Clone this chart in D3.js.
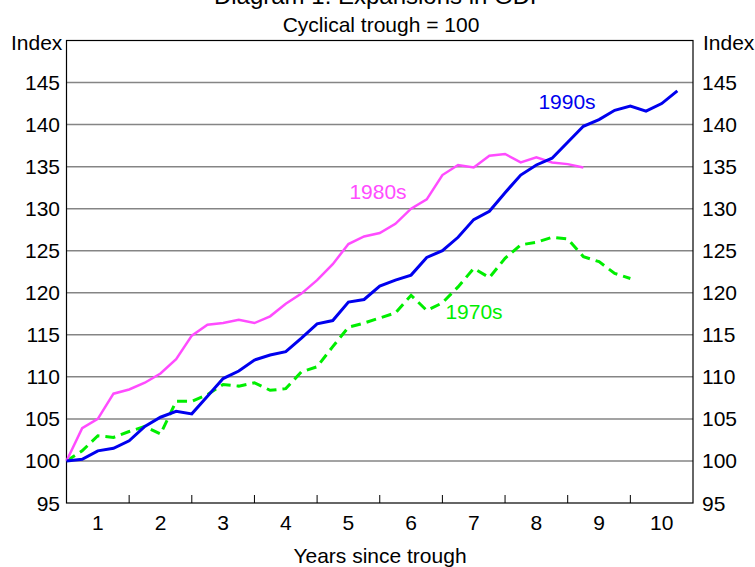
<!DOCTYPE html>
<html>
<head>
<meta charset="utf-8">
<script src="https://cdn.jsdelivr.net/npm/d3@7"></script>
<style>
  body { margin: 0; background: #fff; }
  text { font-family: "Liberation Sans", Arial, sans-serif; }
</style>
</head>
<body>
<script>
// quarterly index, cyclical trough = 100 (quarter 0)
var s1990 = [100, 100.2, 101.2, 101.5, 102.4, 104.1, 105.2, 105.9, 105.6, 107.7,
  109.8, 110.7, 112.0, 112.6, 113.0, 114.6, 116.3, 116.7, 118.9, 119.2,
  120.8, 121.5, 122.1, 124.2, 125.0, 126.6, 128.7, 129.7, 131.9, 134.0,
  135.2, 136.0, 137.9, 139.8, 140.6, 141.7, 142.2, 141.6, 142.5, 144.0];
var s1980 = [100, 103.9, 105.0, 108.0, 108.5, 109.3, 110.4, 112.1, 114.9, 116.2,
  116.4, 116.8, 116.4, 117.2, 118.7, 119.9, 121.5, 123.4, 125.8, 126.7,
  127.1, 128.2, 130.0, 131.1, 134.0, 135.2, 134.9, 136.3, 136.5, 135.5,
  136.1, 135.5, 135.3, 134.9];
var s1970 = [100, 101.2, 103.0, 102.8, 103.5, 104.1, 103.2, 107.1, 107.1, 107.9,
  109.1, 108.9, 109.3, 108.4, 108.6, 110.6, 111.2, 113.6, 115.9, 116.4,
  117.0, 117.6, 119.7, 117.9, 118.8, 120.7, 122.9, 121.8, 124.1, 125.7,
  126.0, 126.6, 126.4, 124.3, 123.7, 122.3, 121.7];
var years = [1, 2, 3, 4, 5, 6, 7, 8, 9, 10];
var yTicks = [95, 100, 105, 110, 115, 120, 125, 130, 135, 140, 145];

var width = 755, height = 567;
var pLeft = 66.5, pRight = 693, pTop = 40.5, pBottom = 503;

var svg = d3.select("body")
  .append("svg")
    .attr("width", width)
    .attr("height", height);

var x = d3.scaleLinear().domain([0, 40]).range([pLeft, pRight]);
var y = d3.scaleLinear().domain([95, 150]).range([pBottom, pTop]);

// gridlines
svg.selectAll("line.grid")
    .data(yTicks.filter(function(d) { return d > 95; }))
  .enter().append("line")
    .attr("class", "grid")
    .attr("x1", pLeft).attr("x2", pRight)
    .attr("y1", function(d) { return y(d); })
    .attr("y2", function(d) { return y(d); })
    .attr("stroke", "#858585")
    .attr("stroke-width", 1.5);

// frame
svg.append("rect")
    .attr("x", pLeft).attr("y", pTop)
    .attr("width", pRight - pLeft).attr("height", pBottom - pTop)
    .attr("fill", "none")
    .attr("stroke", "#000")
    .attr("stroke-width", 1.2);

// year tick marks on the x axis
svg.selectAll("line.xtick")
    .data(d3.range(1, 10))
  .enter().append("line")
    .attr("x1", function(d) { return x(d * 4); })
    .attr("x2", function(d) { return x(d * 4); })
    .attr("y1", pBottom).attr("y2", pBottom - 8)
    .attr("stroke", "#000");

// y labels both sides
svg.selectAll("text.yl")
    .data(yTicks)
  .enter().append("text")
    .attr("x", 60)
    .attr("y", function(d) { return y(d) + 7.5; })
    .attr("text-anchor", "end")
    .style("font-size", "21px")
    .text(function(d) { return d; });

svg.selectAll("text.yr")
    .data(yTicks)
  .enter().append("text")
    .attr("x", 702)
    .attr("y", function(d) { return y(d) + 7.5; })
    .style("font-size", "21px")
    .text(function(d) { return d; });

svg.selectAll("text.xl")
    .data(years)
  .enter().append("text")
    .attr("x", function(d) { return x(d * 4 - 2); })
    .attr("y", 530)
    .attr("text-anchor", "middle")
    .style("font-size", "21px")
    .text(function(d) { return d; });

svg.append("text").attr("x", 11).attr("y", 50).style("font-size", "21px").text("Index");
svg.append("text").attr("x", 703).attr("y", 50).style("font-size", "21px").text("Index");

svg.append("text").attr("x", 380).attr("y", 4).attr("text-anchor", "middle")
    .style("font-size", "24px").text("Diagram 1: Expansions in GDP");
svg.append("text").attr("x", 381).attr("y", 32).attr("text-anchor", "middle")
    .style("font-size", "21px").text("Cyclical trough = 100");
svg.append("text").attr("x", 380).attr("y", 563).attr("text-anchor", "middle")
    .style("font-size", "21px").text("Years since trough");

var line = d3.line()
    .x(function(d, i) { return x(i); })
    .y(function(d) { return y(d); });

svg.append("path").datum(s1970)
    .attr("d", line)
    .attr("fill", "none")
    .attr("stroke", "#00ee00")
    .attr("stroke-width", 3)
    .attr("stroke-dasharray", "10,6");

svg.append("path").datum(s1980)
    .attr("d", line)
    .attr("fill", "none")
    .attr("stroke", "#ff4cff")
    .attr("stroke-width", 2.5);

svg.append("path").datum(s1990)
    .attr("d", line)
    .attr("fill", "none")
    .attr("stroke", "#0000ee")
    .attr("stroke-width", 3);

svg.append("text").attr("x", 567).attr("y", 109).attr("text-anchor", "middle")
    .style("font-size", "21px").attr("fill", "#0000ee").text("1990s");
svg.append("text").attr("x", 378).attr("y", 199).attr("text-anchor", "middle")
    .style("font-size", "21px").attr("fill", "#ff4cff").text("1980s");
svg.append("text").attr("x", 474).attr("y", 319).attr("text-anchor", "middle")
    .style("font-size", "21px").attr("fill", "#00ee00").text("1970s");
</script>
</body>
</html>
